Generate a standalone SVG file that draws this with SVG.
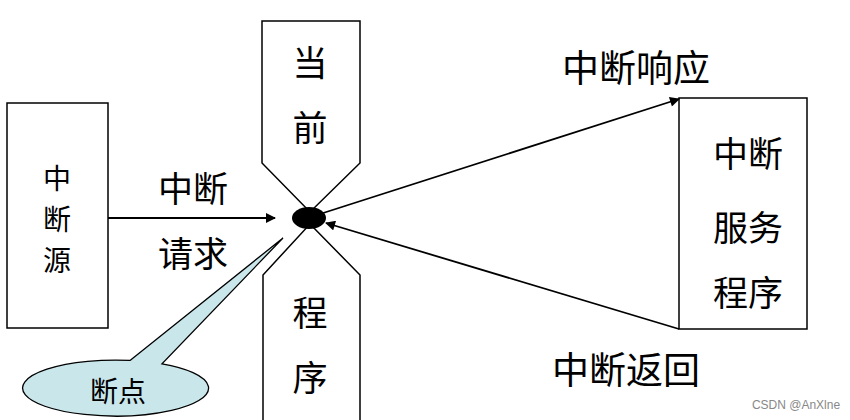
<svg xmlns="http://www.w3.org/2000/svg" width="850" height="420" viewBox="0 0 850 420">
<style>
.box{fill:#fff;stroke:#000;stroke-width:1.5}
.t{font-family:"Noto Sans CJK SC","Noto Sans CJK JP",sans-serif;fill:#000;text-anchor:middle;dominant-baseline:central}
.big{font-size:35px}
.ln{stroke:#000;stroke-width:1.8;fill:none}
</style>
<defs>
<marker id="ah" viewBox="0 0 10 10" refX="9" refY="5" markerWidth="12" markerHeight="10" markerUnits="userSpaceOnUse" orient="auto">
<path d="M0,0 L10,5 L0,10 z" fill="#000"/>
</marker>
</defs>
<rect width="850" height="420" fill="#fff"/>
<g id="current-program-top">
<polygon class="box" points="262,21 360,21 360,163 310,212 262,163"/>
<text class="t big" x="310" y="60">当</text>
<text class="t big" x="310" y="125">前</text>
</g>
<g id="current-program-bottom">
<polygon class="box" points="310,224 360,275 360,425 263,425 263,275"/>
<text class="t big" x="310" y="310">程</text>
<text class="t big" x="310" y="375">序</text>
</g>
<g id="interrupt-source">
<rect class="box" x="7" y="103" width="101" height="225"/>
<text class="t" font-size="28"><tspan x="57" y="177">中</tspan><tspan x="57" y="218">断</tspan><tspan x="57" y="259">源</tspan></text>
</g>
<g id="isr">
<rect class="box" x="679" y="98" width="128" height="231"/>
<text class="t big" x="748" y="151">中断</text>
<text class="t big" x="748" y="225">服务</text>
<text class="t big" x="748" y="290">程序</text>
</g>
<g id="breakpoint-callout">
<path d="M130,360.4 L283,238 L162,363.8 A93,28 0 1 1 130,360.4 Z" fill="#c9e6ea" stroke="#000" stroke-width="1.3"/>
<text class="t" x="118" y="390" font-size="28">断点</text>
</g>
<g id="breakpoint">
<ellipse cx="309" cy="218" rx="17" ry="11" fill="#000"/>
</g>
<g id="connectors">
<line class="ln" x1="108" y1="218" x2="275" y2="218" marker-end="url(#ah)"/>
<line class="ln" x1="320" y1="214" x2="679" y2="99" marker-end="url(#ah)"/>
<line class="ln" x1="679" y1="329" x2="326" y2="223" marker-end="url(#ah)"/>
</g>
<g id="labels">
<text class="t big" x="193" y="186">中断</text>
<text class="t big" x="193" y="251">请求</text>
<text class="t" font-size="37" x="636" y="66">中断响应</text>
<text class="t" font-size="37" x="626" y="368">中断返回</text>
<text x="796" y="409" font-family="Liberation Sans, sans-serif" font-size="12" fill="#888" text-anchor="middle">CSDN @AnXlne</text>
</g>
</svg>
